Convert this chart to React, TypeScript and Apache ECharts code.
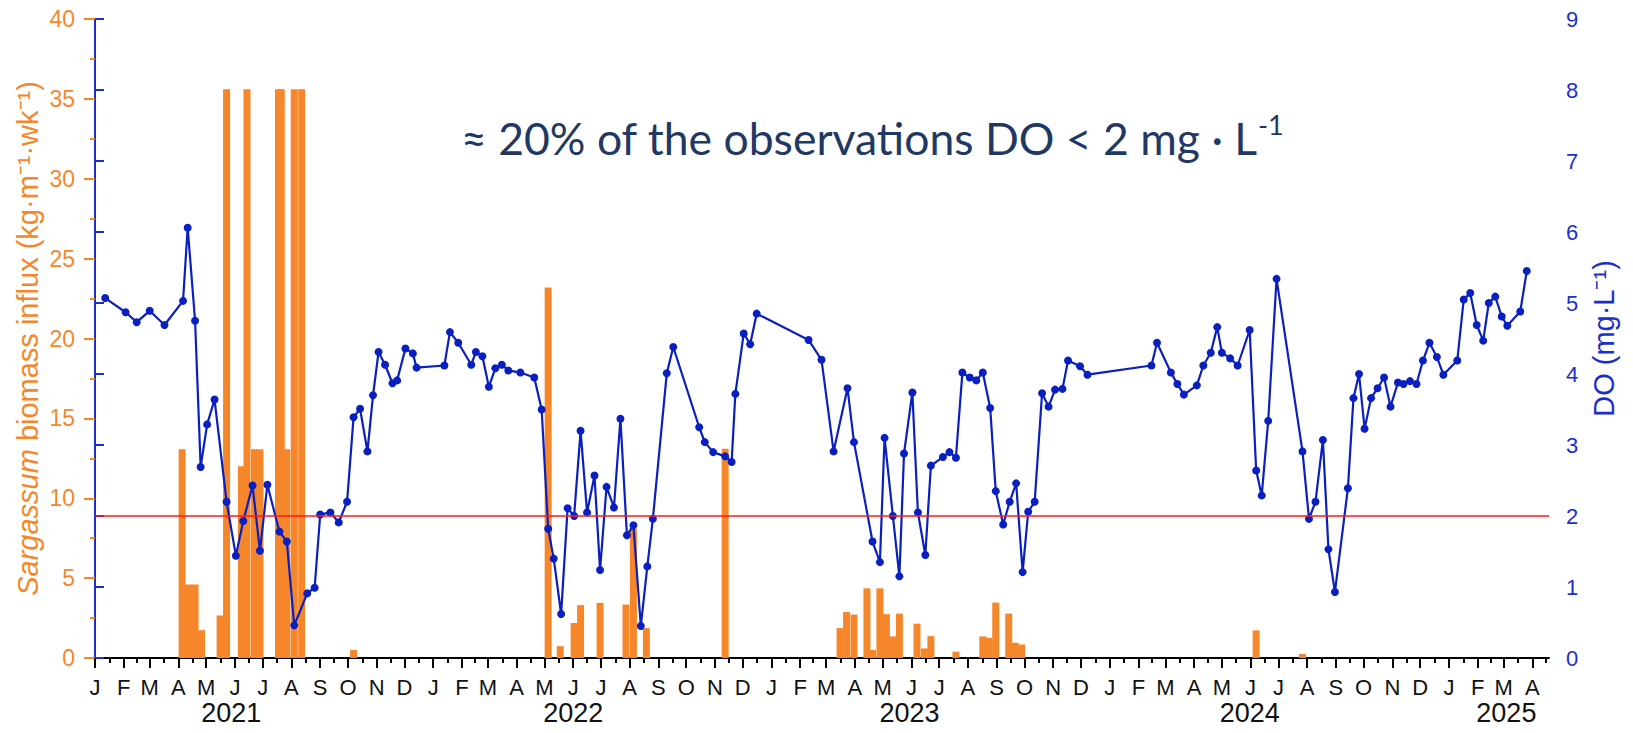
import React, { useEffect, useRef } from "react";
import * as echarts from "echarts";

// ---------- data ----------
const monthLetters = ["J", "F", "M", "A", "M", "J", "J", "A", "S", "O", "N", "D"];
const yearNames = ["2021", "2022", "2023", "2024", "2025"];
const yearLabelDates = ["2021-05-28", "2022-06-01", "2023-05-30", "2024-05-31", "2025-03-04"];
const axisStartDate = "2021-01-01";
const axisEndDate = "2025-04-19";
const doThreshold = 2;
const annotationText = "≈ 20% of the observations DO < 2 mg · L";
const annotationSup = "-1";

// Dissolved oxygen (mg/L)
const do2021: [string, number][] = [
  ["2021-01-12", 5.07], ["2021-02-03", 4.87], ["2021-02-15", 4.73], ["2021-03-01", 4.89], ["2021-03-17", 4.69],
  ["2021-04-06", 5.03], ["2021-04-11", 6.06], ["2021-04-19", 4.75], ["2021-04-25", 2.69], ["2021-05-02", 3.29],
  ["2021-05-10", 3.64], ["2021-05-23", 2.2], ["2021-06-02", 1.44], ["2021-06-10", 1.93], ["2021-06-20", 2.43],
  ["2021-06-28", 1.51], ["2021-07-06", 2.44], ["2021-07-19", 1.78], ["2021-07-27", 1.64], ["2021-08-04", 0.46],
  ["2021-08-18", 0.91], ["2021-08-26", 0.99], ["2021-09-01", 2.02], ["2021-09-12", 2.05], ["2021-09-21", 1.91],
  ["2021-09-30", 2.2], ["2021-10-07", 3.39], ["2021-10-14", 3.51], ["2021-10-22", 2.91], ["2021-10-28", 3.7],
  ["2021-11-03", 4.31], ["2021-11-10", 4.13], ["2021-11-18", 3.87], ["2021-11-23", 3.91], ["2021-12-02", 4.36],
  ["2021-12-10", 4.29], ["2021-12-14", 4.09],
];
const do2022: [string, number][] = [
  ["2022-01-13", 4.12], ["2022-01-19", 4.59], ["2022-01-28", 4.44], ["2022-02-11", 4.13], ["2022-02-16", 4.31],
  ["2022-02-23", 4.25], ["2022-03-02", 3.82], ["2022-03-09", 4.08], ["2022-03-16", 4.13], ["2022-03-23", 4.05],
  ["2022-04-05", 4.02], ["2022-04-20", 3.95], ["2022-04-28", 3.5], ["2022-05-05", 1.82], ["2022-05-11", 1.4],
  ["2022-05-19", 0.62], ["2022-05-26", 2.11], ["2022-06-02", 2.0], ["2022-06-09", 3.2], ["2022-06-16", 2.05],
  ["2022-06-24", 2.57], ["2022-06-30", 1.24], ["2022-07-07", 2.41], ["2022-07-15", 2.12], ["2022-07-22", 3.37],
  ["2022-07-29", 1.73], ["2022-08-05", 1.87], ["2022-08-13", 0.45], ["2022-08-20", 1.29], ["2022-08-26", 1.96],
  ["2022-09-10", 4.01], ["2022-09-17", 4.38], ["2022-10-15", 3.25], ["2022-10-21", 3.04], ["2022-10-30", 2.9],
  ["2022-11-12", 2.84], ["2022-11-19", 2.76], ["2022-11-23", 3.72], ["2022-12-02", 4.57], ["2022-12-09", 4.42],
  ["2022-12-16", 4.85],
];
const do2023: [string, number][] = [
  ["2023-02-10", 4.48], ["2023-02-24", 4.2], ["2023-03-09", 2.91], ["2023-03-24", 3.8], ["2023-03-31", 3.04],
  ["2023-04-20", 1.64], ["2023-04-28", 1.35], ["2023-05-03", 3.1], ["2023-05-12", 2.0], ["2023-05-19", 1.15],
  ["2023-05-24", 2.88], ["2023-06-02", 3.74], ["2023-06-08", 2.05], ["2023-06-16", 1.45], ["2023-06-22", 2.71],
  ["2023-07-05", 2.83], ["2023-07-12", 2.9], ["2023-07-19", 2.82], ["2023-07-26", 4.02], ["2023-08-03", 3.95],
  ["2023-08-10", 3.91], ["2023-08-17", 4.02], ["2023-08-25", 3.52], ["2023-08-31", 2.35], ["2023-09-08", 1.88],
  ["2023-09-15", 2.2], ["2023-09-22", 2.46], ["2023-09-29", 1.21], ["2023-10-05", 2.06], ["2023-10-12", 2.2],
  ["2023-10-20", 3.73], ["2023-10-27", 3.54], ["2023-11-03", 3.78], ["2023-11-11", 3.79], ["2023-11-17", 4.19],
  ["2023-11-30", 4.11], ["2023-12-08", 3.99],
];
const do2024: [string, number][] = [
  ["2024-02-15", 4.12], ["2024-02-21", 4.44], ["2024-03-07", 4.02], ["2024-03-14", 3.86], ["2024-03-21", 3.71],
  ["2024-04-04", 3.84], ["2024-04-11", 4.12], ["2024-04-19", 4.3], ["2024-04-26", 4.66], ["2024-05-01", 4.3],
  ["2024-05-10", 4.22], ["2024-05-18", 4.12], ["2024-05-31", 4.62], ["2024-06-07", 2.64], ["2024-06-13", 2.29],
  ["2024-06-20", 3.34], ["2024-06-29", 5.34], ["2024-07-27", 2.91], ["2024-08-03", 1.96], ["2024-08-10", 2.2],
  ["2024-08-18", 3.07], ["2024-08-24", 1.53], ["2024-08-31", 0.93], ["2024-09-14", 2.39], ["2024-09-20", 3.66],
  ["2024-09-26", 4.0], ["2024-10-02", 3.23], ["2024-10-09", 3.66], ["2024-10-16", 3.8], ["2024-10-23", 3.95],
  ["2024-10-30", 3.54], ["2024-11-07", 3.88], ["2024-11-13", 3.86], ["2024-11-20", 3.9], ["2024-11-27", 3.86],
  ["2024-12-04", 4.19], ["2024-12-11", 4.44], ["2024-12-19", 4.24], ["2024-12-26", 3.99],
];
const do2025: [string, number][] = [
  ["2025-01-10", 4.19], ["2025-01-17", 5.05], ["2025-01-24", 5.14], ["2025-01-31", 4.69], ["2025-02-07", 4.47],
  ["2025-02-13", 5.0], ["2025-02-20", 5.09], ["2025-02-27", 4.81], ["2025-03-05", 4.68], ["2025-03-19", 4.88],
  ["2025-03-26", 5.45],
];

// Sargassum biomass influx (kg m-1 wk-1)
const influx2021: [string, number][] = [
  ["2021-04-05", 13.06], ["2021-04-12", 4.6], ["2021-04-19", 4.6], ["2021-04-26", 1.74], ["2021-05-16", 2.66],
  ["2021-05-23", 35.6], ["2021-06-08", 12.0], ["2021-06-14", 35.6], ["2021-06-22", 13.06], ["2021-06-28", 13.06],
  ["2021-07-18", 35.6], ["2021-07-21", 35.6], ["2021-07-27", 13.06], ["2021-08-04", 35.6], ["2021-08-12", 35.6],
  ["2021-10-07", 0.5],
];
const influx2022: [string, number][] = [
  ["2022-05-05", 23.2], ["2022-05-18", 0.74], ["2022-06-02", 2.19], ["2022-06-09", 3.31], ["2022-06-30", 3.45],
  ["2022-07-28", 3.35], ["2022-08-05", 8.1], ["2022-08-19", 1.87], ["2022-11-12", 13.1],
];
const influx2023: [string, number][] = [
  ["2023-03-16", 1.87], ["2023-03-23", 2.88], ["2023-03-31", 2.72], ["2023-04-14", 4.36], ["2023-04-20", 0.5],
  ["2023-04-28", 4.36], ["2023-05-05", 2.74], ["2023-05-12", 1.35], ["2023-05-19", 2.78], ["2023-06-07", 2.15],
  ["2023-06-15", 0.6], ["2023-06-22", 1.37], ["2023-07-19", 0.4], ["2023-08-17", 1.35], ["2023-08-24", 1.26],
  ["2023-08-31", 3.47], ["2023-09-14", 2.78], ["2023-09-21", 0.95], ["2023-09-28", 0.84],
];
const influx2024: [string, number][] = [
  ["2024-06-07", 1.73], ["2024-07-27", 0.25],
];

// ---------- helpers ----------
const MS_DAY = 86400000;
const parseUTC = (s: string) => {
  const [y, m, d] = s.split("-").map(Number);
  return Date.UTC(y, m - 1, d);
};
const DAY0 = parseUTC(axisStartDate);
const toDay = (s: string) => (parseUTC(s) - DAY0) / MS_DAY;
const X_MAX = toDay(axisEndDate);

const monthStarts: number[] = [];
const monthStartLetter = new Map<number, string>();
for (let k = 0; ; k++) {
  const d = (Date.UTC(2021, k, 1) - DAY0) / MS_DAY;
  if (d > X_MAX) break;
  monthStarts.push(d);
  monthStartLetter.set(d, monthLetters[k % 12]);
}
const midMonths: number[] = [];
for (let k = 0; k < monthStarts.length; k++) {
  const next = (Date.UTC(2021, k + 1, 1) - DAY0) / MS_DAY;
  const mid = (monthStarts[k] + next) / 2;
  if (mid < X_MAX) midMonths.push(mid);
}
const yearDays = yearLabelDates.map(toDay);
const yearByDay = new Map<number, string>();
yearDays.forEach((d, i) => yearByDay.set(d, yearNames[i]));

const doSeries = [...do2021, ...do2022, ...do2023, ...do2024, ...do2025].map(([d, v]) => [toDay(d), v]);
const influxSeries = [...influx2021, ...influx2022, ...influx2023, ...influx2024].map(([d, v]) => [toDay(d), v]);

// ---------- style ----------
const ORANGE = "#F5872A";
const BLUE = "#0A1FBF";
const AXIS_BLUE = "#1B2FCC";
const RED = "#FF1A1A";
const NAVY = "#1F3864";
const FONT = '"Liberation Sans", Arial, Helvetica, sans-serif';
const ANNOT_FONT = "Lato, 'Open Sans', sans-serif";

const option: any = {
  animation: false,
  textStyle: { fontFamily: FONT },
  grid: { left: 95, right: 84, top: 19, bottom: 75, containLabel: false },
  xAxis: [
    {
      type: "value",
      position: "bottom",
      min: 0,
      max: X_MAX,
      axisLine: { show: true, onZero: false, lineStyle: { color: "#000", width: 2 } },
      axisTick: { show: true, inside: false, length: 10, customValues: monthStarts, lineStyle: { color: "#000", width: 2 } },
      axisLabel: {
        customValues: monthStarts,
        formatter: (v: number) => monthStartLetter.get(v) ?? "",
        fontSize: 22,
        color: "#111",
        margin: 18,
        fontFamily: FONT,
      },
      splitLine: { show: false },
    },
    {
      type: "value",
      position: "bottom",
      min: 0,
      max: X_MAX,
      axisLine: { show: false, onZero: false },
      axisTick: { show: true, inside: false, length: 5, customValues: midMonths, lineStyle: { color: "#000", width: 2 } },
      axisLabel: {
        customValues: yearDays,
        formatter: (v: number) => yearByDay.get(v) ?? "",
        fontSize: 27,
        color: "#111",
        margin: 41,
        fontFamily: FONT,
      },
      splitLine: { show: false },
    },
  ],
  yAxis: [
    {
      type: "value",
      position: "left",
      min: 0,
      max: 40,
      interval: 5,
      axisLine: { show: true, lineStyle: { color: ORANGE, width: 2 } },
      axisTick: { show: true, inside: false, length: 11, lineStyle: { color: ORANGE, width: 2 } },
      minorTick: { show: true, splitNumber: 2, length: 5, lineStyle: { color: ORANGE, width: 2 } },
      axisLabel: { fontSize: 23, color: ORANGE, margin: 20, fontFamily: FONT },
      splitLine: { show: false },
      name: "{i|Sargassum} biomass influx (kg·m⁻¹·wk⁻¹)",
      nameLocation: "middle",
      nameRotate: 90,
      nameGap: 53,
      nameMoveOverlap: false,
      nameTextStyle: {
        color: ORANGE,
        fontSize: 29,
        fontFamily: FONT,
        rich: { i: { fontStyle: "italic", fontSize: 29, color: ORANGE, fontFamily: FONT } },
      },
    },
    {
      type: "value",
      position: "right",
      min: 0,
      max: 9,
      interval: 1,
      axisLine: { show: true, lineStyle: { color: AXIS_BLUE, width: 2 } },
      axisTick: { show: true, inside: false, length: 9, lineStyle: { color: AXIS_BLUE, width: 2 } },
      axisLabel: { fontSize: 22, color: AXIS_BLUE, margin: 17, fontFamily: FONT },
      splitLine: { show: false },
      name: "DO (mg·L⁻¹)",
      nameLocation: "middle",
      nameRotate: 90,
      nameGap: 37,
      nameTextStyle: { color: AXIS_BLUE, fontSize: 29, fontFamily: FONT },
    },
  ],
  graphic: [
    {
      type: "text",
      left: 461,
      top: 111,
      silent: true,
      style: {
        text: `{m|${annotationText}}{s|${annotationSup}}`,
        rich: {
          m: { fontSize: 44.5, lineHeight: 52, fontFamily: ANNOT_FONT, fill: NAVY },
          s: { fontSize: 27, lineHeight: 27, verticalAlign: "top", fontFamily: ANNOT_FONT, fill: NAVY },
        },
      },
    },
  ],
  series: [
    {
      type: "bar",
      name: "Sargassum biomass influx",
      xAxisIndex: 0,
      yAxisIndex: 0,
      data: influxSeries,
      barWidth: 7,
      itemStyle: { color: ORANGE },
      z: 2,
    },
    {
      type: "line",
      name: "DO",
      xAxisIndex: 0,
      yAxisIndex: 1,
      data: doSeries,
      symbol: "circle",
      symbolSize: 8,
      showSymbol: true,
      itemStyle: { color: BLUE },
      lineStyle: { color: BLUE, width: 2.2 },
      z: 4,
      markLine: {
        silent: true,
        symbol: ["none", "none"],
        label: { show: false },
        lineStyle: { color: RED, width: 1.6, type: "solid" },
        data: [{ yAxis: doThreshold }],
      },
    },
  ],
};

export default function App() {
  const ref = useRef<HTMLDivElement>(null);
  useEffect(() => {
    if (!ref.current) return;
    const chart = echarts.init(ref.current, null, { renderer: "svg" });
    chart.setOption(option);
    return () => chart.dispose();
  }, []);
  return (
    <div
      ref={ref}
      style={{ position: "absolute", left: 0, top: 0, width: 1633, height: 733, background: "#fff" }}
    />
  );
}
